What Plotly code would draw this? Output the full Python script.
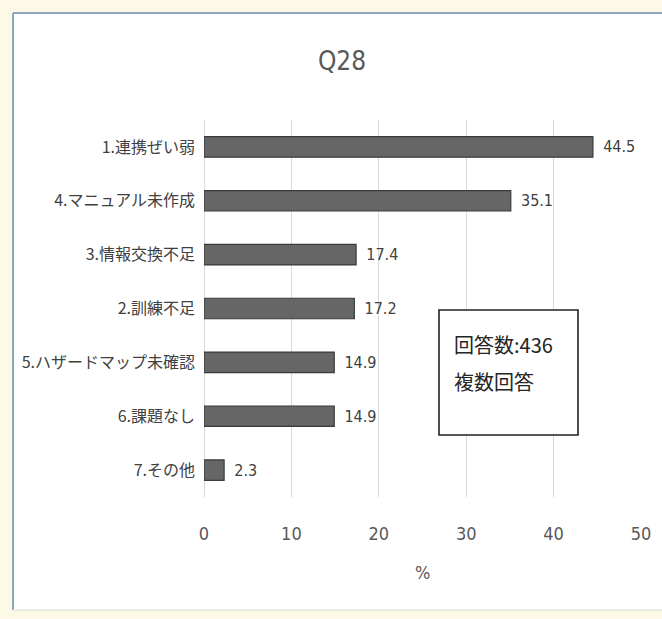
import plotly.graph_objects as go

# Survey result Q28 (multiple answers, n=436), values in percent
categories = [
    "1.連携ぜい弱",
    "4.マニュアル未作成",
    "3.情報交換不足",
    "2.訓練不足",
    "5.ハザードマップ未確認",
    "6.課題なし",
    "7.その他",
]
percents = [44.5, 35.1, 17.4, 17.2, 14.9, 14.9, 2.3]
x_ticks = [0, 10, 20, 30, 40, 50]
chart_title = "Q28"
axis_title = "%"
note_lines = ["回答数:436", "複数回答"]

W, H = 662, 619
ML, MR, MT, MB = 204, 21, 120, 122
PW, PH = W - ML - MR, H - MT - MB

NARROW = "DejaVu Sans Condensed, Liberation Sans Narrow, Noto Sans CJK JP, sans-serif"
CJK = "Noto Sans CJK JP, sans-serif"
TEXT = "#404040"
GREY = "#595959"


def px_x(p):
    """pixel column -> paper x"""
    return (p - ML) / PW


def px_y(p):
    """pixel row -> paper y"""
    return (H - MB - p) / PH


fig = go.Figure()
fig.add_trace(
    go.Bar(
        x=percents,
        y=categories,
        orientation="h",
        marker=dict(color="#666666", line=dict(color="#3a3a3a", width=1.2)),
        text=percents,
        texttemplate="\u2002%{x}",
        textposition="outside",
        constraintext="none",
        textfont=dict(family=NARROW, size=16, color=TEXT),
        cliponaxis=False,
        hoverinfo="skip",
    )
)

shapes = [
    # white chart panel on the cream page
    dict(type="rect", xref="paper", yref="paper", layer="below",
         x0=px_x(13), x1=px_x(700), y0=px_y(610), y1=px_y(13),
         fillcolor="white", line=dict(width=0)),
    dict(type="line", xref="paper", yref="paper", layer="below",
         x0=px_x(13), x1=px_x(13), y0=px_y(610), y1=px_y(13),
         line=dict(color="#8FA5C0", width=2)),
    dict(type="line", xref="paper", yref="paper", layer="below",
         x0=px_x(13), x1=px_x(700), y0=px_y(13), y1=px_y(13),
         line=dict(color="#8FA5C0", width=2)),
    dict(type="line", xref="paper", yref="paper", layer="below",
         x0=px_x(13), x1=px_x(700), y0=px_y(610), y1=px_y(610),
         line=dict(color="#E3E3E3", width=1.5)),
    # note box
    dict(type="rect", xref="paper", yref="paper", layer="above",
         x0=px_x(439), x1=px_x(578), y0=px_y(435), y1=px_y(310),
         fillcolor="white", line=dict(color="#222222", width=1.6)),
]

annotations = [
    dict(text=note_lines[0], xref="paper", yref="paper",
         x=px_x(452), y=px_y(344), xanchor="left", yanchor="middle",
         showarrow=False, font=dict(family=CJK, size=20, color="#262626")),
    dict(text=note_lines[1], xref="paper", yref="paper",
         x=px_x(452), y=px_y(382), xanchor="left", yanchor="middle",
         showarrow=False, font=dict(family=CJK, size=20, color="#262626")),
    dict(text=axis_title, xref="paper", yref="paper",
         x=0.5, y=px_y(572), xanchor="center", yanchor="middle",
         showarrow=False, font=dict(family=NARROW, size=18, color=GREY)),
]

fig.update_layout(
    width=W,
    height=H,
    margin=dict(l=ML, r=MR, t=MT, b=MB),
    paper_bgcolor="#FCFAE6",
    plot_bgcolor="rgba(0,0,0,0)",
    showlegend=False,
    bargap=0.62,
    title=dict(
        text=chart_title,
        x=342 / W, xref="container", xanchor="center",
        y=1 - 61 / H, yref="container", yanchor="middle",
        font=dict(family=NARROW, size=26, color=GREY),
    ),
    xaxis=dict(
        range=[0, 50],
        tickvals=x_ticks,
        showgrid=True,
        gridcolor="#D9D9D9",
        gridwidth=1,
        zeroline=True,
        zerolinecolor="#D9D9D9",
        zerolinewidth=1,
        showline=False,
        ticks="",
        ticklabelstandoff=24,
        tickfont=dict(family=NARROW, size=18, color=GREY),
        fixedrange=True,
    ),
    yaxis=dict(
        autorange="reversed",
        showgrid=False,
        showline=False,
        ticks="",
        ticklabelstandoff=8,
        tickfont=dict(family=CJK, size=16, color=TEXT),
        fixedrange=True,
    ),
    shapes=shapes,
    annotations=annotations,
)

fig.write_html("out.html", config={"displayModeBar": False})
